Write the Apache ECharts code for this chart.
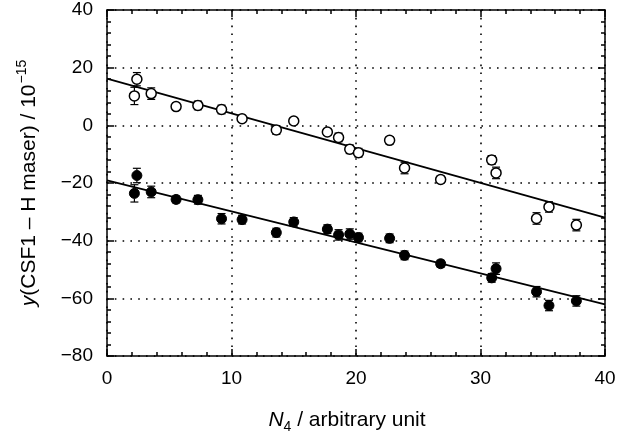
<!DOCTYPE html>
<html>
<head>
<meta charset="utf-8">
<script src="https://cdn.jsdelivr.net/npm/echarts@6/dist/echarts.min.js"></script>
<style>html,body{margin:0;padding:0;background:#fff}#c{width:632px;height:439px}</style>
</head>
<body>
<div id="c"></div>
<script>
// N4 values (shared by both series)
const xN = [2.4, 2.2, 3.55, 5.55, 7.3, 9.2, 10.85, 13.6, 15.0, 17.7, 18.6, 19.5, 20.2, 22.7, 23.9, 26.8, 30.9, 31.25, 34.5, 35.5, 37.7];
// open circles
const yOpen = [16.0, 10.2, 11.0, 6.5, 6.9, 5.5, 2.3, -1.6, 1.5, -2.3, -4.2, -8.3, -9.5, -5.2, -14.8, -18.8, -12.0, -16.5, -32.3, -28.3, -34.6];
const errOpen = [2.3, 3.0, 2.0, 1.2, 1.5, 1.5, 1.2, 1.5, 1.2, 1.2, 1.5, 1.5, 1.5, 1.2, 2.0, 1.2, 1.5, 2.0, 2.0, 1.8, 2.0];
// filled circles
const yFilled = [-17.4, -23.6, -23.1, -25.7, -25.8, -32.4, -32.7, -37.2, -33.5, -36.0, -38.0, -37.7, -38.9, -39.2, -45.1, -48.0, -52.9, -49.7, -57.7, -62.5, -60.9];
const errFilled = [2.5, 3.0, 2.0, 1.2, 1.5, 1.8, 1.5, 1.5, 1.5, 1.5, 1.8, 1.8, 1.5, 1.5, 1.5, 1.2, 1.5, 2.0, 1.8, 1.8, 1.8];
// fitted lines, values at fitX
const fitX = [0, 40];
const fitOpen = [16.2, -32.0];
const fitFilled = [-19.1, -62.1];
const xTicks = [0, 10, 20, 30, 40];
const yTicks = [-80, -60, -40, -20, 0, 20, 40];

const FONT = 'Liberation Sans, Arial, sans-serif';
const SYM = 10;
const pts = (ys) => xN.map((x, i) => [x, ys[i]]);
const errPts = (ys, es) => xN.map((x, i) => [x, ys[i], es[i]]);
const fitPts = (ys) => fitX.map((x, i) => [x, ys[i]]);

function errRender(params, api) {
  const x = api.value(0), y = api.value(1), e = api.value(2);
  const c = api.coord([x, y]);
  const t = api.coord([x, y + e]), b = api.coord([x, y - e]);
  const w = 4, r = SYM / 2;
  const st = { stroke: '#000', lineWidth: 1.2 };
  const kids = [];
  if (c[1] - t[1] > r) {
    kids.push({ type: 'line', shape: { x1: t[0], y1: t[1], x2: c[0], y2: c[1] - r }, style: st });
  }
  if (b[1] - c[1] > r) {
    kids.push({ type: 'line', shape: { x1: c[0], y1: c[1] + r, x2: b[0], y2: b[1] }, style: st });
  }
  kids.push({ type: 'line', shape: { x1: t[0] - w, y1: t[1], x2: t[0] + w, y2: t[1] }, style: st });
  kids.push({ type: 'line', shape: { x1: b[0] - w, y1: b[1], x2: b[0] + w, y2: b[1] }, style: st });
  return { type: 'group', children: kids };
}

const minus = (v) => String(v).replace('-', '\u2212');
const axisCommon = {
  axisLine: { show: true, onZero: false, lineStyle: { color: '#000', width: 1.5 } },
  axisTick: { show: true, inside: true, length: 7, lineStyle: { color: '#000', width: 1.5 } },
  minorTick: { show: true, splitNumber: 5, length: 4, lineStyle: { color: '#000', width: 1.5 } }
};
const splitDots = { show: true, lineStyle: { color: '#000', width: 1.6, type: [1.6, 6.2] } };

const chart = echarts.init(document.getElementById('c'), null, { renderer: 'canvas' });
chart.setOption({
  animation: false,
  backgroundColor: '#fff',
  grid: { left: 107, right: 27, top: 10, bottom: 78 },
  xAxis: [
    Object.assign({
      type: 'value', min: xTicks[0], max: xTicks[xTicks.length - 1], interval: 10,
      position: 'bottom',
      axisLabel: { color: '#000', fontSize: 19, fontFamily: FONT, margin: 13, formatter: minus },
      splitLine: splitDots,
      name: '{i|N}{sub|4}{n| / arbitrary unit}',
      nameLocation: 'middle', nameGap: 51,
      nameTextStyle: {
        padding: [0, 18, 0, 0],
        rich: {
          i: { fontSize: 21, fontStyle: 'italic', fontFamily: FONT, color: '#000', verticalAlign: 'bottom', lineHeight: 24 },
          sub: { fontSize: 14, fontFamily: FONT, color: '#000', verticalAlign: 'bottom', lineHeight: 18, padding: [0, 0, -3, 0] },
          n: { fontSize: 21, fontFamily: FONT, color: '#000', verticalAlign: 'bottom', lineHeight: 24 }
        }
      }
    }, axisCommon),
    Object.assign({
      type: 'value', min: 0, max: 40, interval: 10, position: 'top',
      axisLabel: { show: false }, splitLine: { show: false }
    }, axisCommon)
  ],
  yAxis: [
    Object.assign({
      type: 'value', min: yTicks[0], max: yTicks[yTicks.length - 1], interval: 20,
      position: 'left',
      axisLabel: { color: '#000', fontSize: 19, fontFamily: FONT, margin: 14, formatter: minus },
      splitLine: splitDots,
      name: '{i|y}{n|(CSF1 \u2013 H maser) / 10}{sup|\u221215}',
      nameLocation: 'middle', nameGap: 64, nameRotate: 90,
      nameTextStyle: {
        rich: {
          i: { fontSize: 21, fontStyle: 'italic', fontFamily: FONT, color: '#000', verticalAlign: 'top', lineHeight: 24 },
          n: { fontSize: 21, fontFamily: FONT, color: '#000', verticalAlign: 'top', lineHeight: 24 },
          sup: { fontSize: 14, fontFamily: FONT, color: '#000', verticalAlign: 'top', lineHeight: 16, padding: [-4, 0, 0, 1] }
        }
      }
    }, axisCommon),
    Object.assign({
      type: 'value', min: -80, max: 40, interval: 20, position: 'right',
      axisLabel: { show: false }, splitLine: { show: false }
    }, axisCommon)
  ],
  series: [
    { type: 'line', data: fitPts(fitOpen), symbol: 'none', lineStyle: { color: '#000', width: 1.8 }, z: 2 },
    { type: 'line', data: fitPts(fitFilled), symbol: 'none', lineStyle: { color: '#000', width: 1.8 }, z: 2 },
    { type: 'custom', renderItem: errRender, data: errPts(yOpen, errOpen), z: 3 },
    { type: 'custom', renderItem: errRender, data: errPts(yFilled, errFilled), z: 3 },
    { type: 'scatter', data: pts(yOpen), symbol: 'circle', symbolSize: SYM,
      itemStyle: { color: '#fff', borderColor: '#000', borderWidth: 1.5, opacity: 1 }, z: 4 },
    { type: 'scatter', data: pts(yFilled), symbol: 'circle', symbolSize: SYM,
      itemStyle: { color: '#000', borderColor: '#000', borderWidth: 1, opacity: 1 }, z: 4 }
  ]
});
</script>
</body>
</html>
